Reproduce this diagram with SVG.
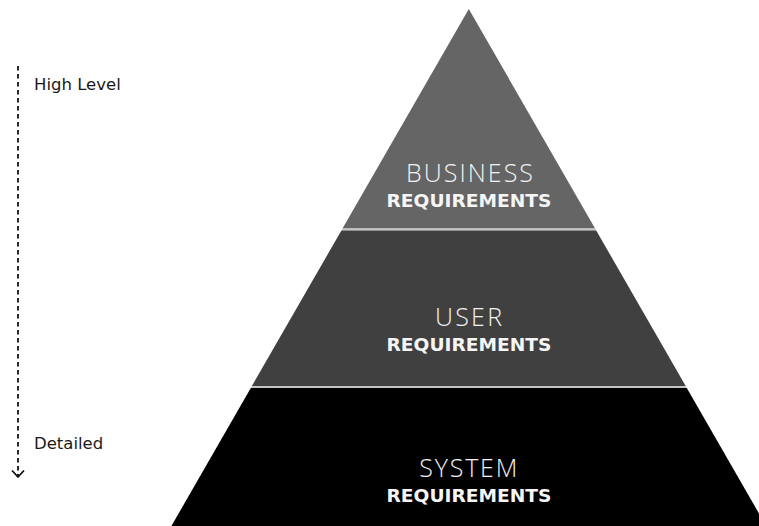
<svg xmlns="http://www.w3.org/2000/svg" width="759" height="526" viewBox="0 0 759 526">
  <style>
    .side { font-family: "DejaVu Sans", Verdana, sans-serif; font-size: 16.5px; fill: #1a1a1a; }
    .tier { font-family: "Open Sans", "Liberation Sans", sans-serif; font-weight: 300; font-size: 25px; fill: #f2f2f2; text-anchor: middle; }
    .req { font-family: "DejaVu Sans", "Liberation Sans", sans-serif; font-weight: 700; font-size: 18px; fill: #f5f5f5; text-anchor: middle; }
    .sep { fill: #c4c4c4; }
  </style>
  <rect width="759" height="526" fill="#ffffff"/>

  <!-- level axis -->
  <g id="axis">
    <line x1="18" y1="66" x2="18" y2="476" stroke="#111" stroke-width="1.8" stroke-dasharray="4.5 3.5"/>
    <polyline points="12,470.5 18,477 24,470.5" fill="none" stroke="#111" stroke-width="1.8"/>
    <text class="side" x="34" y="89.5">High Level</text>
    <text class="side" x="34" y="448.5">Detailed</text>
  </g>

  <!-- pyramid tiers -->
  <g id="business">
    <polygon points="468.8,9 595.1,228.5 342.5,228.5" fill="#656565"/>
    <text class="tier" x="469.5" y="181.5" textLength="127" lengthAdjust="spacing">BUSINESS</text>
    <text class="req" x="469" y="206.5" textLength="165" lengthAdjust="spacingAndGlyphs">REQUIREMENTS</text>
  </g>
  <polygon class="sep" points="342.5,228.5 595.1,228.5 596.2,230.5 341.4,230.5"/>

  <g id="user">
    <polygon points="341.4,230.5 596.2,230.5 685.7,386 251.9,386" fill="#404040"/>
    <text class="tier" x="468.5" y="326" textLength="67" lengthAdjust="spacing">USER</text>
    <text class="req" x="469" y="350.5" textLength="165" lengthAdjust="spacingAndGlyphs">REQUIREMENTS</text>
  </g>
  <polygon class="sep" points="251.9,386 685.7,386 686.8,388 250.8,388"/>

  <g id="system">
    <polygon points="250.8,388 686.8,388 766.2,526 171.4,526" fill="#000000"/>
    <text class="tier" x="468.3" y="477" textLength="98" lengthAdjust="spacing">SYSTEM</text>
    <text class="req" x="469" y="501.5" textLength="165" lengthAdjust="spacingAndGlyphs">REQUIREMENTS</text>
  </g>
</svg>
